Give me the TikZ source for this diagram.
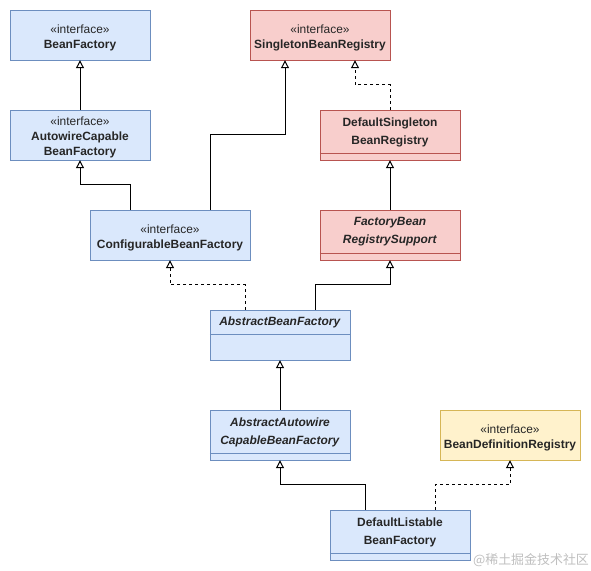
\documentclass[tikz,border=0pt]{standalone}
\usepackage{fontspec}
\setmainfont{Liberation Sans}
\newfontfamily\cjkfont{Noto Sans CJK SC}
\usetikzlibrary{arrows.meta}
\definecolor{bluefill}{HTML}{DAE8FC}
\definecolor{blueline}{HTML}{6C8EBF}
\definecolor{redfill}{HTML}{F8CECC}
\definecolor{redline}{HTML}{B85450}
\definecolor{yellowfill}{HTML}{FFF2CC}
\definecolor{yellowline}{HTML}{D6B656}
\begin{document}
\begin{tikzpicture}[x=1bp, y=-1bp,
		classbox/.style={draw, minimum width=140bp, minimum height=50bp, inner sep=0pt},
		bluebox/.style={classbox, fill=bluefill, draw=blueline},
		redbox/.style={classbox, fill=redfill, draw=redline},
		yellowbox/.style={classbox, fill=yellowfill, draw=yellowline},
		ifacetext/.style={align=center, inner sep=0pt, text=black!85, font=\fontsize{12}{15}\selectfont},
		classtext/.style={align=center, inner sep=0pt, text=black!85, font=\fontsize{12}{18}\selectfont},
		extends/.style={line width=1bp, -{Triangle[open, length=8bp, width=8bp]}},
		implements/.style={extends, dash pattern=on 3bp off 3bp}]
		\useasboundingbox (0,0) rectangle (591,571);
		% interfaces
		\node [bluebox] (bf) at (80,35) {};
		\node [ifacetext] (bf-t) at (80,37.5) {«interface»\\\textbf{BeanFactory}};
		\node [bluebox] (acbf) at (80,135) {};
		\node [ifacetext] (acbf-t) at (80,137) {«interface»\\\textbf{AutowireCapable}\\\textbf{BeanFactory}};
		\node [bluebox, minimum width=160bp] (cbf) at (170,235) {};
		\node [ifacetext] (cbf-t) at (170,237.5) {«interface»\\\textbf{ConfigurableBeanFactory}};
		\node [redbox] (sbr) at (320,35) {};
		\node [ifacetext] (sbr-t) at (320,37.5) {«interface»\\\textbf{SingletonBeanRegistry}};
		\node [yellowbox] (bdr) at (510,435) {};
		\node [ifacetext] (bdr-t) at (510,437.5) {«interface»\\\textbf{BeanDefinitionRegistry}};
		% classes
		\node [redbox] (dsbr) at (390,135) {};
		\node [classtext] (dsbr-t) at (390,132) {\textbf{DefaultSingleton}\\\textbf{BeanRegistry}};
		\draw [redline] ([yshift=7bp]dsbr.south west) -- ([yshift=7bp]dsbr.south east);
		\node [redbox] (fbrs) at (390,235) {};
		\node [classtext] (fbrs-t) at (390,232) {\textbf{\textit{FactoryBean}}\\\textbf{\textit{RegistrySupport}}};
		\draw [redline] ([yshift=7bp]fbrs.south west) -- ([yshift=7bp]fbrs.south east);
		\node [bluebox] (abf) at (280,335) {};
		\node [classtext] (abf-t) at (280,322.5) {\textbf{\textit{AbstractBeanFactory}}};
		\draw [blueline] ([yshift=-24bp]abf.north west) -- ([yshift=-24bp]abf.north east);
		\node [bluebox] (aacbf) at (280,435) {};
		\node [classtext] (aacbf-t) at (280,432) {\textbf{\textit{AbstractAutowire}}\\\textbf{\textit{CapableBeanFactory}}};
		\draw [blueline] ([yshift=7bp]aacbf.south west) -- ([yshift=7bp]aacbf.south east);
		\node [bluebox] (dlbf) at (400,535) {};
		\node [classtext] (dlbf-t) at (400,532) {\textbf{DefaultListable}\\\textbf{BeanFactory}};
		\draw [blueline] ([yshift=7bp]dlbf.south west) -- ([yshift=7bp]dlbf.south east);
		% inheritance
		\draw [extends] (acbf.north) -- (bf.south);
		\draw [extends] ([xshift=-40bp]cbf.north) -- ++(0,-25) -| (acbf.south);
		\draw [extends] ([xshift=40bp]cbf.north) -- ++(0,-75) -| ([xshift=-35bp]sbr.south);
		\draw [implements] (dsbr.north) -- ++(0,-25) -| ([xshift=35bp]sbr.south);
		\draw [extends] (fbrs.north) -- (dsbr.south);
		\draw [implements] ([xshift=-35bp]abf.north) -- ++(0,-25) -| (cbf.south);
		\draw [extends] ([xshift=35bp]abf.north) -- ++(0,-25) -| (fbrs.south);
		\draw [extends] (aacbf.north) -- (abf.south);
		\draw [extends] ([xshift=-35bp]dlbf.north) -- ++(0,-25) -| (aacbf.south);
		\draw [implements] ([xshift=35bp]dlbf.north) -- ++(0,-25) -| (bdr.south);
		%\draw [help lines] (0,0) grid (591,571);
		\node [text=black!25, font=\cjkfont\fontsize{13}{13}\selectfont] (mark) at (531,560) {@稀土掘金技术社区};
	\end{tikzpicture}
\end{document}
